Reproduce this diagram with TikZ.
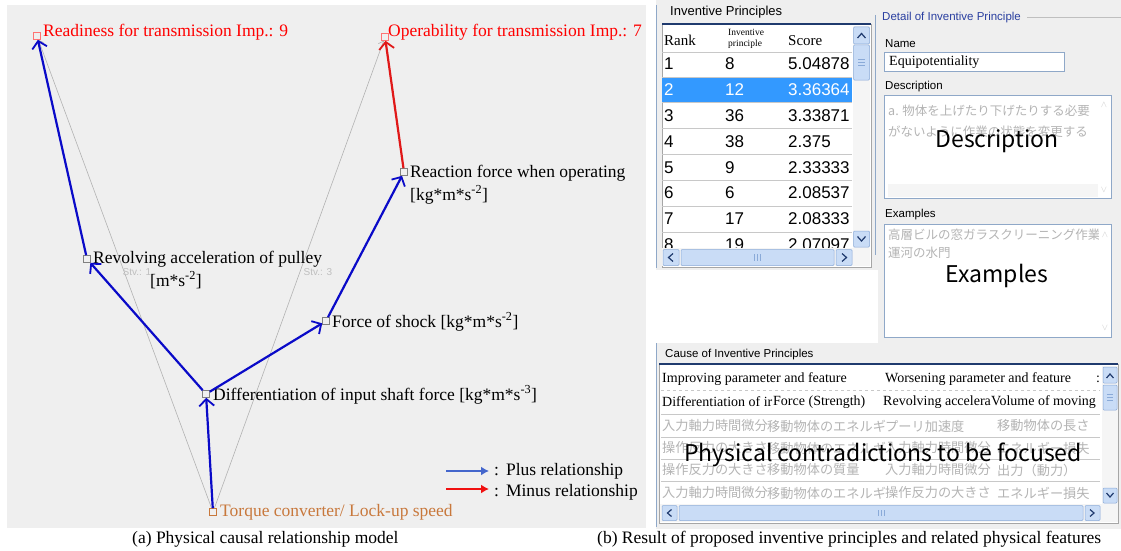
\documentclass[tikz,border=0pt]{standalone}
\usepackage{fontspec}
\setmainfont{Liberation Serif}
\newfontfamily\uisans{Liberation Sans}
\newfontfamily\jpfont{Noto Sans CJK JP}
\usetikzlibrary{arrows.meta}
\definecolor{panelgray}{HTML}{EFEFEF}
\definecolor{plusblue}{HTML}{0A0AC8}
\definecolor{minusred}{HTML}{E01818}
\definecolor{legblue}{HTML}{4466CC}
\definecolor{legred}{HTML}{F01010}
\definecolor{orangetxt}{HTML}{C8783C}
\definecolor{selblue}{HTML}{3399FF}
\definecolor{navy}{HTML}{1F3A6E}
\definecolor{boxborder}{HTML}{8FA8C8}
\definecolor{titleblue}{HTML}{2A3FA0}
\definecolor{jpgray}{HTML}{B4B4B4}
\definecolor{sbfill}{HTML}{C9DCF6}
\definecolor{sbborder}{HTML}{8AAAD8}
\definecolor{rowline}{HTML}{C8C8C8}
\begin{document}
\begin{tikzpicture}[x=1pt,y=-1pt,
  sq/.style={draw, minimum size=7pt, inner sep=0pt, line width=0.6pt},
  lbl/.style={anchor=base west, inner sep=0pt, font=\fontsize{17.5}{22.5}\selectfont, align=left},
  plusarrow/.style={draw=plusblue, line width=2.2pt, -{Straight Barb[length=7pt,width=15pt,line width=1.8pt]}},
  minusarrow/.style={draw=minusred, line width=2.2pt, -{Straight Barb[length=7pt,width=15pt,line width=1.8pt]}},
  grayarrow/.style={draw=gray!60, line width=0.6pt, -{Straight Barb[length=4pt,width=8pt]}},
  legarrow/.style={line width=2.2pt, -{Latex[length=8pt,width=9pt]}},
  uititle/.style={anchor=west, inner sep=0pt, font=\uisans\fontsize{11.5}{13}\selectfont},
  num/.style={anchor=west, inner sep=0pt, font=\uisans\fontsize{17}{18}\selectfont},
  cell/.style={anchor=west, inner sep=0pt, font=\fontsize{14}{16}\selectfont},
  jcell/.style={anchor=west, inner sep=0pt, text=jpgray, font=\jpfont\fontsize{12.5}{14}\selectfont},
  jrow/.style={anchor=west, inner sep=0pt, text=jpgray, font=\jpfont\fontsize{13.2}{14}\selectfont},
  big/.style={inner sep=0pt, font=\jpfont\fontsize{23}{25}\selectfont},
  captxt/.style={anchor=base west, inner sep=0pt, font=\fontsize{17.5}{20}\selectfont},
  stv/.style={inner sep=0pt, text=gray!50, font=\uisans\fontsize{10}{11}\selectfont},
  sbbtn/.style={fill=sbfill, draw=sbborder, line width=0.5pt, rounded corners=1pt},
  chev/.style={draw=navy, line width=1.2pt}
]
\useasboundingbox (0,0) rectangle (1121,551);
\fill[white] (0,0) rectangle (1121,551);

% ================= left panel =================
\fill[panelgray] (7,5) rectangle (646,528);

\node[sq, draw=red!55] (r) at (37,36) {};
\node[sq, draw=red!55] (o) at (385,37) {};
\node[sq, draw=gray] (rf) at (404,172) {};
\node[sq, draw=gray] (rv) at (87,259) {};
\node[sq, draw=gray] (fs) at (326,321) {};
\node[sq, draw=gray] (df) at (206,394) {};
\node[sq, draw=orangetxt] (tq) at (213,512) {};

% gray structural lines
\draw[grayarrow] (tq) -- (r);
\draw[grayarrow] (tq) -- (o);
\node[stv] (stv1) at (137,272) {Stv.: 1};
\node[stv] (stv3) at (318,272) {Stv.: 3};

\node[lbl, text=red] (rt) at (43,37) {Readiness for transmission Imp.: 9};
\node[lbl, text=red] (ot) at (388,37) {Operability for transmission Imp.: 7};
\node[lbl, anchor=north west] (rft) at (410,165) {Reaction force when operating\\{}[kg*m*s\textsuperscript{-2}]};
\node[lbl, anchor=north west] (rvt) at (93,251) {Revolving acceleration of pulley\\\hspace*{57pt}[m*s\textsuperscript{-2}]};
\node[lbl] (fst) at (332,327) {Force of shock [kg*m*s\textsuperscript{-2}]};
\node[lbl] (dft) at (213,400) {Differentiation of input shaft force [kg*m*s\textsuperscript{-3}]};
\node[lbl, text=orangetxt] (tqt) at (220,516) {Torque converter/ Lock-up speed};

\draw[plusarrow] (tq) -- (df);
\draw[plusarrow] (df) -- (rv);
\draw[plusarrow] (rv) -- (r);
\draw[plusarrow] (df) -- (fs);
\draw[plusarrow] (fs) -- (rf);
\draw[minusarrow] (rf) -- (o);

% legend
\coordinate (lb1) at (446,471);
\coordinate (lb2) at (489,471);
\coordinate (lr1) at (446,489);
\coordinate (lr2) at (489,489);
\draw[legarrow, legblue] (lb1) -- (lb2);
\draw[legarrow, legred] (lr1) -- (lr2);
\node[lbl] (lbt) at (494,475) {:\hspace{7pt}Plus relationship};
\node[lbl] (lrt) at (494,496) {:\hspace{7pt}Minus relationship};

\node[captxt] (capa) at (132,543) {(a) Physical causal relationship model};
\node[captxt] (capb) at (597,543) {(b) Result of proposed inventive principles and related physical features};

% ================= right: inventive principles =================
\fill[panelgray] (656,0) rectangle (878,270);
\fill[panelgray] (878,0) rectangle (1121,343);
\fill[panelgray] (656,343) rectangle (1121,529);
\draw[boxborder, line width=1pt] (656,5) -- (656,268);
\draw[boxborder, line width=1pt] (656,343) -- (656,527);

\node[uititle, font=\uisans\fontsize{13}{14}\selectfont] (ipt) at (670,12) {Inventive Principles};
\fill[white] (662,24) rectangle (871,267);
\draw[gray!70, line width=0.6pt] (662,24) rectangle (871,267);
\draw[navy, line width=1.5pt] (662,24) -- (871,24);

% selected row
\fill[selblue] (662,77.5) rectangle (852,102);
\foreach \yy in {52,77.5,102,128,154,180,206,232} {\draw[rowline, line width=0.6pt] (662,\yy) -- (852,\yy);}
\node[cell, font=\fontsize{15}{17}\selectfont] (hrank) at (664,40) {Rank};
\node[cell, font=\fontsize{9.5}{10.5}\selectfont, align=left, anchor=west] (hip) at (728,39) {Inventive\\principle};
\node[cell, font=\fontsize{15}{17}\selectfont] (hscore) at (788,41) {Score};

\begin{scope}
\clip (662,52) rectangle (852,248);
\foreach \rk/\ip/\sc/\yy in {1/8/5.04878/64,3/36/3.33871/116,4/38/2.375/142,5/9/2.33333/168,6/6/2.08537/193,7/17/2.08333/219,8/19/2.07097/245} {
  \node[num] (ipr\rk) at (664,\yy) {\rk};
  \node[num] at (725,\yy) {\ip};
  \node[num] at (788,\yy) {\sc};
}
\node[num, text=white] (ipr2) at (664,90) {2};
\node[num, text=white] at (725,90) {12};
\node[num, text=white] at (788,90) {3.36364};
\end{scope}

% vertical scrollbar
\fill[gray!8] (853,26) rectangle (870,248);
\draw[sbbtn] (853.5,27) rectangle (869.5,44);
\draw[chev] (857.5,38) -- (861.5,33.5) -- (865.5,38);
\draw[sbbtn] (853.5,45) rectangle (869.5,80);
\foreach \yy in {59,62,65} {\draw[sbborder, line width=0.5pt] (858,\yy) -- (865,\yy);}
\draw[sbbtn] (853.5,231) rectangle (869.5,247);
\draw[chev] (857.5,236.5) -- (861.5,241) -- (865.5,236.5);
% horizontal scrollbar
\fill[gray!8] (662,248) rectangle (870,266);
\draw[sbbtn] (663,249.5) rectangle (679,265.5);
\draw[chev] (673,253.5) -- (668.5,257.5) -- (673,261.5);
\draw[sbbtn] (681,249.5) rectangle (834,265.5);
\foreach \xx in {754,757,760} {\draw[sbborder, line width=0.5pt] (\xx,254) -- (\xx,261);}
\draw[sbbtn] (836,249.5) rectangle (852,265.5);
\draw[chev] (842,253.5) -- (846.5,257.5) -- (842,261.5);

% ================= detail of inventive principle =================
\node[uititle, text=titleblue] (dtt) at (882,18) {Detail of Inventive Principle};
\draw[gray!50, line width=0.6pt] (1027,17) -- (1121,17);
\draw[boxborder, line width=1pt] (875,15) -- (875,255);

\node[uititle] (namel) at (885,44) {Name};
\node[draw=boxborder, fill=white, line width=1pt, minimum width=180pt, minimum height=19pt, anchor=north west, inner sep=0pt] (namebox) at (884,52) {};
\node[cell, font=\fontsize{14}{16}\selectfont] (namet) at (889,62) {Equipotentiality};

\node[uititle] (descl) at (885,87) {Description};
\node[draw=boxborder, fill=white, line width=1pt, minimum width=227pt, minimum height=103pt, anchor=north west, inner sep=0pt] (descbox) at (884,95) {};
\fill[gray!8] (888,184) rectangle (1098,197);
\node[jcell] (d1) at (888,111) {a. 物体を上げたり下げたりする必要};
\node[jcell] (d2) at (888,132) {がないように作業の状態を変更する};
\node[big] (dbig) at (997,141) {Description};
\node[text=gray!40, inner sep=0pt, font=\uisans\fontsize{9}{9}\selectfont] (dup) at (1104,105) {$\wedge$};
\node[text=gray!40, inner sep=0pt, font=\uisans\fontsize{9}{9}\selectfont] (ddn) at (1104,190) {$\vee$};

\node[uititle] (exl) at (885,215) {Examples};
\node[draw=boxborder, fill=white, line width=1pt, minimum width=227pt, minimum height=113pt, anchor=north west, inner sep=0pt] (exbox) at (884,224) {};
\begin{scope}
\clip (885,225) rectangle (1098,336);
\node[jcell] (e1) at (888,235) {高層ビルの窓ガラスクリーニング作業用};
\end{scope}
\node[jcell] (e2) at (888,253) {運河の水門};
\node[big] (ebig) at (997,276) {Examples};
\node[text=gray!40, inner sep=0pt, font=\uisans\fontsize{9}{9}\selectfont] (eup) at (1105,235) {$\wedge$};
\node[text=gray!40, inner sep=0pt, font=\uisans\fontsize{9}{9}\selectfont] (edn) at (1105,328) {$\vee$};

% ================= cause of inventive principles =================
\node[uititle] (cst) at (665,355) {Cause of Inventive Principles};
\fill[white] (659,364) rectangle (1118,523);
\draw[gray!70, line width=0.6pt] (659,364) rectangle (1118,523);
\draw[navy, line width=1.5pt] (659,364) -- (1118,364);
\draw[rowline, dashed, line width=0.6pt] (661,390) -- (1100,390);
\foreach \yy in {414,437,459,481} {\draw[rowline, line width=0.6pt] (661,\yy) -- (1100,\yy);}

\begin{scope}
\clip (660,366) rectangle (1102,504);
\node[cell] (c11) at (662,379) {Improving parameter and feature};
\node[cell] (c12) at (885,379) {Worsening parameter and feature};
\node[cell] (c13) at (1096,379) {:};
\node[cell] (c21) at (662,402) {Differentiation of ir};
\node[cell] (c22) at (773,402) {Force (Strength)};
\node[cell] (c23) at (883,402) {Revolving accelera};
\node[cell] (c24) at (991,402) {Volume of moving};
\foreach \a/\b/\c/\d/\yy in {入力軸力時間微分/移動物体のエネルギ/プーリ加速度/移動物体の長さ/426,
  操作反力の大きさ/移動物体のエネルギ/入力軸力時間微分/エネルギー損失/448,
  操作反力の大きさ/移動物体の質量/入力軸力時間微分/出力（動力）/470,
  入力軸力時間微分/移動物体のエネルギ/操作反力の大きさ/エネルギー損失/493} {
  \node[jrow] at (662,\yy) {\a};
  \node[jrow] at (767,\yy) {\b};
  \node[jrow] at (885,\yy) {\c};
  \node[jrow] at (997,\yy) {\d};
}
\end{scope}
\node[big] (pbig) at (883,455) {Physical contradictions to be focused};

% cause scrollbars
\fill[gray!8] (1102,366) rectangle (1118,522);
\draw[sbbtn] (1103,367) rectangle (1117,383);
\draw[chev] (1106.5,378) -- (1110,374) -- (1113.5,378);
\draw[sbbtn] (1103,385) rectangle (1117,410);
\foreach \yy in {394,397,400} {\draw[sbborder, line width=0.5pt] (1107,\yy) -- (1113,\yy);}
\draw[sbbtn] (1103,488) rectangle (1117,503);
\draw[chev] (1106.5,493) -- (1110,497) -- (1113.5,493);
\fill[gray!8] (660,504) rectangle (1102,522);
\draw[sbbtn] (662,505.5) rectangle (677,520.5);
\draw[chev] (671.5,509.5) -- (667.5,513) -- (671.5,516.5);
\draw[sbbtn] (679,505.5) rectangle (1083,520.5);
\foreach \xx in {878,881,884} {\draw[sbborder, line width=0.5pt] (\xx,510) -- (\xx,516);}
\draw[sbbtn] (1085,505.5) rectangle (1100,520.5);
\draw[chev] (1090,509.5) -- (1094,513) -- (1090,516.5);
\end{tikzpicture}
\end{document}
